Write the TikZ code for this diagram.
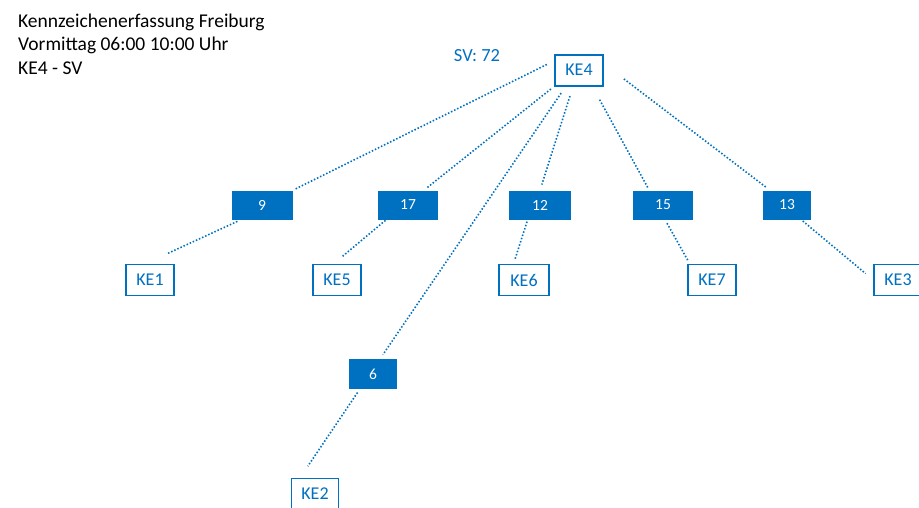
\documentclass[tikz,border=0pt]{standalone}
\usepackage{fontspec}
\setmainfont{Carlito}
\usepackage{xcolor}
\usepackage{tikz}
\definecolor{kzblue}{HTML}{0070C0}

\begin{document}
\begin{tikzpicture}[x=1pt, y=-1pt,
  zahl/.style={fill=kzblue, text=white, minimum height=29pt, inner sep=0pt, font=\fontsize{15.5}{18}\selectfont},
  kebox/.style={draw=kzblue, line width=1.3pt, fill=white, text=kzblue, minimum width=48pt, minimum height=31pt, inner sep=0pt, font=\fontsize{18}{22}\selectfont},
  verb/.style={kzblue, line width=1.6pt, dash pattern=on 1.5pt off 1.9pt},
  titel/.style={anchor=base west, inner sep=0pt, font=\fontsize{19.5}{23}\selectfont}]
  \useasboundingbox (0,0) rectangle (919,507);

  % Titel
  \node[titel] (titel1) at (18,27) {Kennzeichenerfassung Freiburg};
  \node[titel] (titel2) at (18,50) {Vormittag 06:00 10:00 Uhr};
  \node[titel] (titel3) at (18,74) {KE4 - SV};

  % Quelle
  \node[kebox, line width=2pt] (ke4) at (579,70) {KE4};
  \node[text=kzblue, font=\fontsize{18.5}{22}\selectfont] (sv) at (477,56) {SV: 72};

  % Anzahlen
  \node[zahl, minimum width=61pt] (z9) at (262,205) {9};
  \node[zahl, minimum width=60pt] (z17) at (408,205) {17};
  \node[zahl, minimum width=62pt] (z12) at (540,205) {12};
  \node[zahl, minimum width=60pt] (z15) at (663,205) {15};
  \node[zahl, minimum width=48pt] (z13) at (787,205) {13};
  \node[zahl, minimum width=48pt, minimum height=30pt] (z6) at (373,374) {6};

  % Ziele
  \node[kebox] (ke1) at (150,280) {KE1};
  \node[kebox] (ke5) at (337,280) {KE5};
  \node[kebox, minimum width=50pt] (ke6) at (524,280) {KE6};
  \node[kebox] (ke7) at (712,280) {KE7};
  \node[kebox] (ke3) at (898,280) {KE3};
  \node[kebox, minimum width=47pt] (ke2) at (315,494) {KE2};

  % Verbindungen oben
  \draw[verb, shorten <=8pt, shorten >=2pt] (ke4.160) -- (z9.north east);
  \draw[verb, shorten <=4pt, shorten >=3pt] (ke4.south west) -- (z17.43);
  \draw[verb, shorten <=8pt, shorten >=5pt] (ke4.231) -- (z6.65);
  \draw[verb, shorten <=10pt, shorten >=6pt] (ke4.250) -- (z12.north);
  \draw[verb, shorten <=15pt, shorten >=3pt] (ke4.309) -- (z15.133);
  \draw[verb, shorten <=25pt, shorten >=5pt] (ke4.14) -- (z13.139);

  % Verbindungen unten
  \draw[verb, shorten <=4pt, shorten >=24pt] (z9.215) -- (ke1.107);
  \draw[verb, shorten <=1pt, shorten >=11pt] (z17.214) -- (ke5.102);
  \draw[verb, shorten <=2pt, shorten >=4pt] (z12.230) -- (ke6.123);
  \draw[verb, shorten <=4pt, shorten >=4pt] (z15.278) -- (ke7.144);
  \draw[verb, shorten <=2pt, shorten >=10pt] (z13.314) -- (ke3.west);
  \draw[verb, shorten <=4pt, shorten >=14pt] (z6.229) -- (ke2.133);
\end{tikzpicture}
\end{document}
